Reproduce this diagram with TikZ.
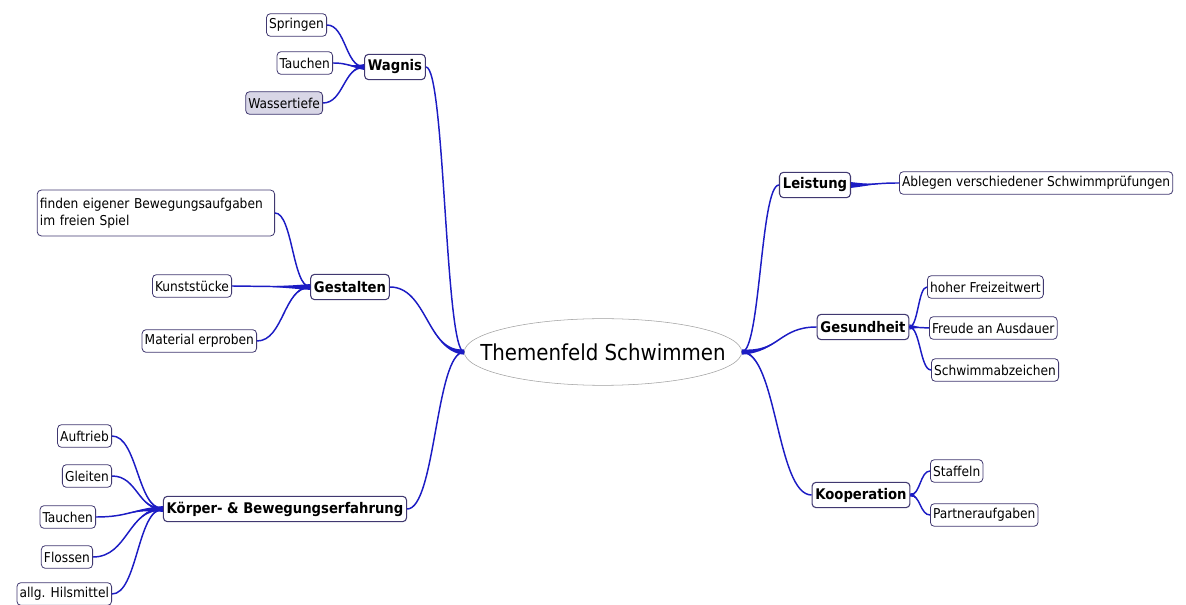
\documentclass[tikz,border=0pt]{standalone}
\usepackage{fontspec}
\setmainfont{DejaVu Sans Condensed}[BoldFont={DejaVu Sans Condensed Bold}]
\usepackage{tikz}
\usetikzlibrary{calc,shapes.geometric}
\definecolor{mapblue}{RGB}{28,28,196}
\definecolor{framepurple}{RGB}{64,56,112}
\definecolor{softlilac}{RGB}{216,214,230}
\definecolor{ovalgray}{RGB}{160,160,160}
\tikzset{
  topic/.style={ellipse, draw=ovalgray, fill=white, inner xsep=-30pt, inner ysep=0pt, minimum width=208pt, minimum height=50pt, font=\fontsize{16.5}{19}\selectfont},
  mainbox/.style={rectangle, rounded corners=3pt, draw=framepurple, line width=0.8pt, fill=white, inner xsep=2.5pt, inner ysep=2pt, minimum height=19pt, font=\bfseries\fontsize{11}{13}\selectfont},
  leaf/.style={rectangle, rounded corners=3pt, draw=framepurple, line width=0.6pt, fill=white, inner xsep=2pt, inner ysep=2pt, minimum height=17pt, font=\fontsize{10.2}{12.5}\selectfont},
  branch/.style={draw=mapblue, line width=1.1pt}
}
% tapered map edge: [half width at parent]{parent anchor}{child anchor}
\newcommand{\mapedge}[3][0.8pt]{%
  \fill[mapblue] ($(#2)+(0,#1)$) .. controls ($(#2)!.5!(#2 -| #3)$) and ($(#3)!.5!(#3 -| #2)$) .. (#3)
    .. controls ($(#3)!.5!(#3 -| #2)$) and ($(#2)!.5!(#2 -| #3)$) .. ($(#2)-(0,#1)$) -- cycle;
  \draw[branch] (#2) .. controls ($(#2)!.5!(#2 -| #3)$) and ($(#3)!.5!(#3 -| #2)$) .. (#3);}
\begin{document}
\begin{tikzpicture}[x=0.75pt, y=-0.75pt]
\useasboundingbox (0,0) rectangle (1186,605);
\node[topic] (thema) at (603,352) {Themenfeld Schwimmen};
% left side
\node[mainbox] (wagnis) at (395,67) {Wagnis};
\node[leaf, anchor=east] (springen) at (327,25) {Springen};
\node[leaf, anchor=east] (tauchenA) at (333,63) {Tauchen};
\node[leaf, anchor=east, fill=softlilac] (tiefe) at (323,103) {Wassertiefe};
\node[mainbox] (gestalten) at (350,287) {Gestalten};
\node[leaf, anchor=east, align=left, text width=174pt, inner ysep=6pt] (finden) at (275,213) {finden eigener Bewegungsaufgaben\\im freien Spiel};
\node[leaf, anchor=east] (kunst) at (232,286) {Kunststücke};
\node[leaf, anchor=east] (material) at (257,341) {Material erproben};
\node[mainbox] (koerper) at (285,509) {Körper- \& Bewegungserfahrung};
\node[leaf, anchor=east] (auftrieb) at (112,436) {Auftrieb};
\node[leaf, anchor=east] (gleiten) at (112,476) {Gleiten};
\node[leaf, anchor=east] (tauchenB) at (96,517) {Tauchen};
\node[leaf, anchor=east] (flossen) at (93,557) {Flossen};
\node[leaf, anchor=east] (hilfs) at (112,594) {allg. Hilsmittel};
% right side
\node[mainbox] (leistung) at (815,185) {Leistung};
\node[leaf, anchor=west] (ablegen) at (899,183) {Ablegen verschiedener Schwimmprüfungen};
\node[mainbox] (gesund) at (863,327) {Gesundheit};
\node[leaf, anchor=west] (freizeit) at (927,287) {hoher Freizeitwert};
\node[leaf, anchor=west] (ausdauer) at (929,328) {Freude an Ausdauer};
\node[leaf, anchor=west] (abzeichen) at (931,370) {Schwimmabzeichen};
\node[mainbox] (koop) at (861,495) {Kooperation};
\node[leaf, anchor=west] (staffeln) at (930,471) {Staffeln};
\node[leaf, anchor=west] (partner) at (930,515) {Partneraufgaben};
% edges from the centre
\mapedge[0.4pt]{thema.west}{wagnis.east}
\mapedge[2pt]{thema.west}{gestalten.east}
\mapedge[0.6pt]{thema.west}{koerper.east}
\mapedge[0.5pt]{thema.east}{leistung.west}
\mapedge[2pt]{thema.east}{gesund.west}
\mapedge[1pt]{thema.east}{koop.west}
% edges to the leaves
\mapedge[1pt]{wagnis.west}{springen.east}
\mapedge[2.2pt]{wagnis.west}{tauchenA.east}
\mapedge[1.2pt]{wagnis.west}{tiefe.east}
\mapedge[1pt]{gestalten.west}{finden.east}
\mapedge[2.2pt]{gestalten.west}{kunst.east}
\mapedge[1.2pt]{gestalten.west}{material.east}
\mapedge[1.2pt]{koerper.west}{auftrieb.east}
\mapedge[1.5pt]{koerper.west}{gleiten.east}
\mapedge[2.2pt]{koerper.west}{tauchenB.east}
\mapedge[1.5pt]{koerper.west}{flossen.east}
\mapedge[1pt]{koerper.west}{hilfs.east}
\mapedge[2.2pt]{leistung.east}{ablegen.west}
\mapedge[0.8pt]{gesund.east}{freizeit.west}
\mapedge[2pt]{gesund.east}{ausdauer.west}
\mapedge[0.8pt]{gesund.east}{abzeichen.west}
\mapedge[1.2pt]{koop.east}{staffeln.west}
\mapedge[1.2pt]{koop.east}{partner.west}
\end{tikzpicture}
\end{document}
